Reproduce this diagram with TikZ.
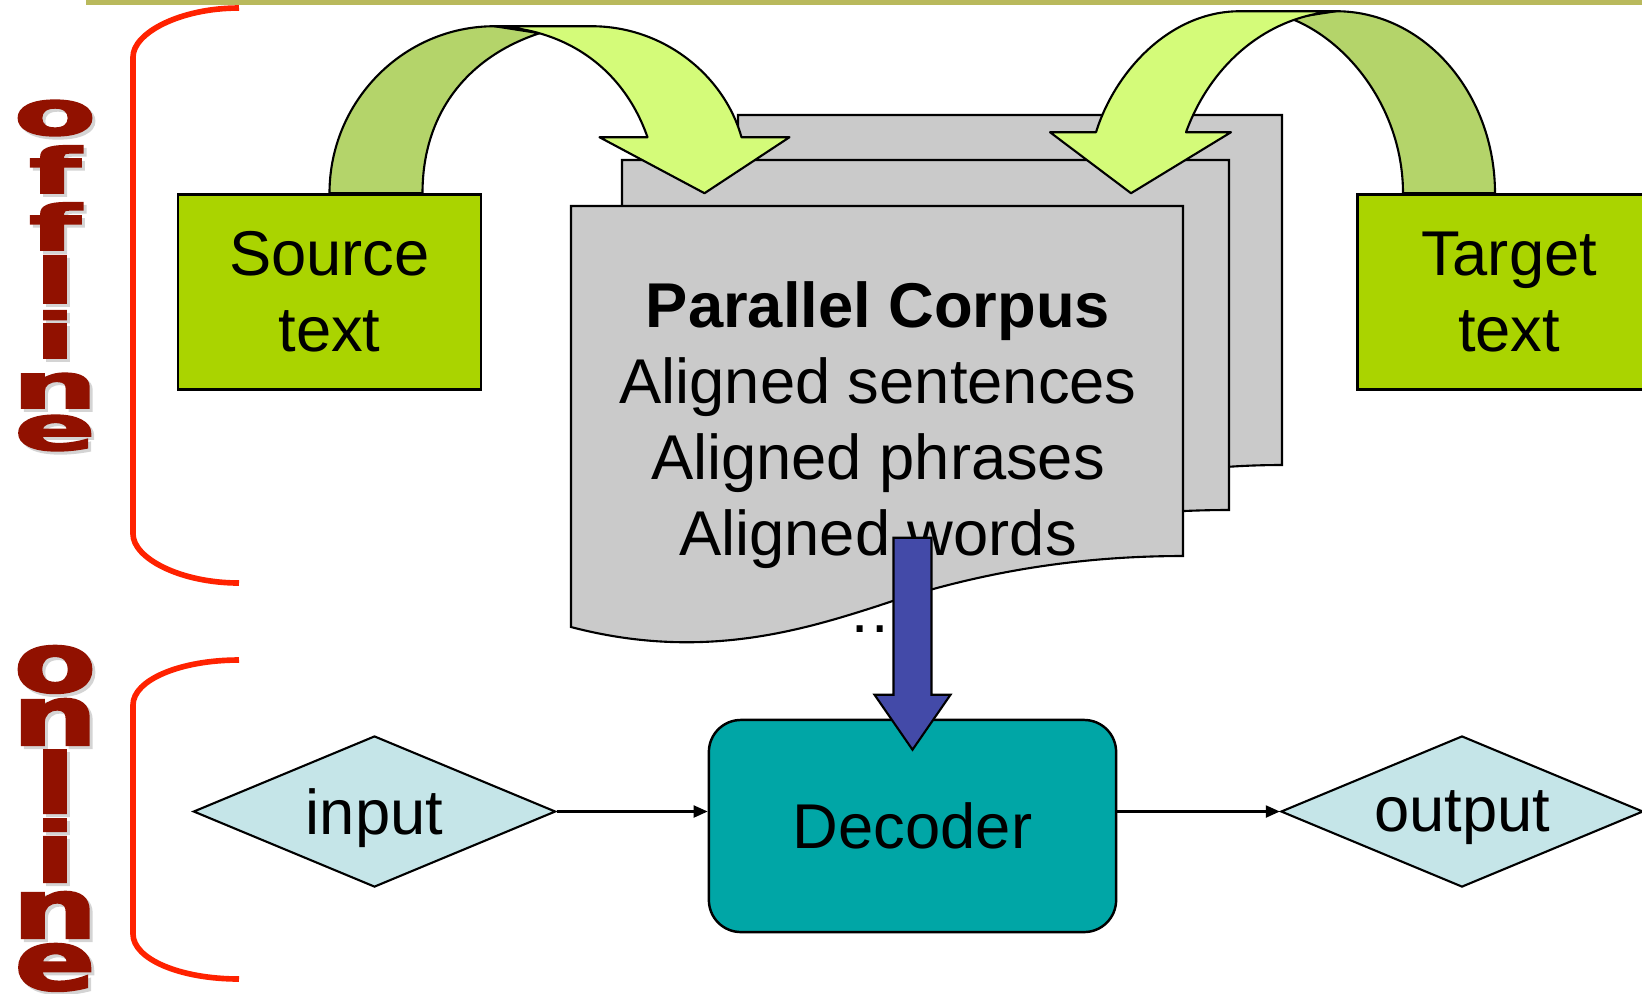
\documentclass[tikz,border=0pt]{standalone}
\usepackage{fontspec}
\setmainfont{Liberation Sans}
\newfontfamily\wordart{DejaVu Sans}[BoldFeatures={FakeBold=2.5}]
\usetikzlibrary{arrows.meta,calc,shapes.geometric}
\definecolor{ink}{HTML}{000000}
\definecolor{topbar}{HTML}{B9B95C}
\definecolor{bracered}{HTML}{FF2200}
\definecolor{wordred}{HTML}{911100}
\definecolor{shade}{HTML}{D4D4D4}
\definecolor{boxgreen}{HTML}{AAD400}
\definecolor{bandback}{HTML}{B4D46A}
\definecolor{bandfront}{HTML}{D4FB79}
\definecolor{pagegray}{HTML}{CACACA}
\definecolor{decoderteal}{HTML}{00A6A6}
\definecolor{diamondcyan}{HTML}{C5E5E8}
\definecolor{blockblue}{HTML}{434AA8}
\tikzset{
  letter/.style={font=\wordart\bfseries\fontsize{10}{12}\selectfont,
    text=wordred,anchor=base,inner sep=0pt},
  brace/.style={draw=bracered,line width=1.6pt},
  page/.style={draw=ink,fill=pagegray,line width=0.6pt},
  textbox/.style={draw=ink,fill=boxgreen,line width=0.7pt,align=center,
    minimum width=3.03cm,minimum height=1.95cm,inner sep=0pt},
  band/.style={draw=ink,line width=0.6pt,line join=round},
  decoderbox/.style={draw=ink,fill=decoderteal,rounded corners=0.32cm,
    line width=0.7pt,minimum width=4.07cm,minimum height=2.12cm},
  io/.style={diamond,draw=ink,fill=diamondcyan,line width=0.6pt,aspect=2.4,
    inner sep=0pt,text depth=0pt,minimum width=3.62cm,minimum height=1.51cm},
  flow/.style={draw=ink,line width=0.6pt,-{Triangle[length=1.4mm,width=1.2mm]}},
  blockarrow/.style={draw=ink,fill=blockblue,line width=0.6pt,line join=miter}
}
\begin{document}
\begin{tikzpicture}[x=0.01cm,y=-0.01cm,font=\fontsize{18}{21.5}\selectfont]
\useasboundingbox (0,0) rectangle (1642,993);

% title rule and the two brackets
\fill[topbar] (86,0) rectangle (1642,4.5);
\draw[brace] (239,8) .. controls (180,8) and (133,33) .. (133,57)
  -- (133,534) .. controls (133,558) and (180,583) .. (239,583);
\draw[brace] (239,660) .. controls (180,660) and (133,680) .. (133,705)
  -- (133,934) .. controls (133,959) and (180,979) .. (239,979);

% stretched letters, each with a light drop shadow behind it
\foreach \ch/\y [count=\i] in {o/135,f/193,f/250,l/303,i/358,n/408,e/450} {
  \node[letter] (off-\i) at (55,\y)
    {\scalebox{3.4}[1.77]{\rlap{\kern0.25pt\raisebox{-0.48pt}{\textcolor{shade}{\ch}}}\ch}};
}
\foreach \ch/\y [count=\i] in {o/692,n/745,l/813,i/882,n/938,e/990} {
  \node[letter] (on-\i) at (55,\y)
    {\scalebox{3.4}[2.35]{\rlap{\kern0.25pt\raisebox{-0.36pt}{\textcolor{shade}{\ch}}}\ch}};
}

% stacked corpus pages
\foreach \l/\t/\w in {738/115/544,622/160/607,571/206/612} {
  \draw[page] (\l,\t) -- ({\l+\w},\t) -- ({\l+\w},{\t+350})
    .. controls ({\l+0.833*\w},{\t+350}) and ({\l+0.670*\w},{\t+365}) .. ({\l+0.501*\w},{\t+400})
    .. controls ({\l+0.374*\w},{\t+425}) and ({\l+0.211*\w},{\t+455}) .. (\l,{\t+421}) -- cycle;
}
\node[anchor=base,font=\bfseries\fontsize{18}{21.5}\selectfont] (corpus) at (878,327) {Parallel Corpus};
\node[anchor=base] (sentences) at (878,403) {Aligned sentences};
\node[anchor=base] (phrases) at (878,479) {Aligned phrases};
\node[anchor=base] (words) at (878,555) {Aligned words};
\node[anchor=base west,inner sep=0pt] (dots) at (848,632) {…};

\node[textbox] (source) at (329.5,292) {Source\\text};
\node[textbox] (target) at (1509,292) {Target\\text};

% curved arrows into the corpus
\draw[band,fill=bandback] (source.north) .. controls +(0,-92) and +(-91,0) .. ++(165,-167)
  coordinate (lefttop) -- ++(45,7) .. controls +(-70,23) and +(0,-82) .. ++(-117,160) -- cycle;
\draw[band,fill=bandfront] (lefttop) -- ++(97,0) .. controls +(73,0) and +(-17,-61) .. ++(150,111)
  -- ++(48,0) -- ++(-85,56) -- ++(-105,-56) -- ++(48,0)
  .. controls +(-23,-66) and +(75,3) .. (lefttop) -- cycle;
\draw[band,fill=bandback] ($(target.north)+(-14,0)$) .. controls +(0,-100) and +(88,0) .. ++(-159,-182)
  coordinate (righttop) -- ++(-46,7) .. controls +(60,23) and +(0,-82) .. ++(113,175) -- cycle;
\draw[band,fill=bandfront] (righttop) -- ++(-96,0) .. controls +(-70,0) and +(19,-61) .. ++(-144,121)
  -- ++(-46,0) -- ++(81,61) -- ++(100,-61) -- ++(-45,0)
  .. controls +(24,-66) and +(-71,5) .. (righttop) -- cycle;

% online part
\node[decoderbox] (decoder) at (912.5,826) {Decoder};
\node[io] (input) at (374.5,811.5) {input};
\node[io] (output) at (1462,811.5) {output};
\draw[flow] (input.east) -- (input.east -| decoder.west);
\draw[flow] (decoder.east |- output.west) -- (output.west);

\draw[blockarrow] ($(decoder.north)+(-19,-181)$) -- ++(38,0) -- ++(0,157) -- ++(19,0)
  -- ($(decoder.north)+(0,31)$) -- ++(-38,-55) -- ++(19,0) -- cycle;

\end{tikzpicture}
\end{document}
